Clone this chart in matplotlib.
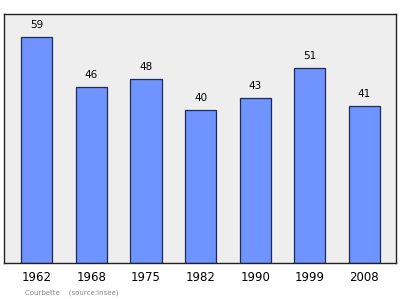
import matplotlib
matplotlib.use('Agg')
import matplotlib.pyplot as plt

years = ['1962', '1968', '1975', '1982', '1990', '1999', '2008']
population = [59, 46, 48, 40, 43, 51, 41]

fig = plt.figure(figsize=(4, 2.99), dpi=100)
ax = fig.add_axes([0.01, 0.12, 0.98, 0.833])
ax.set_facecolor('#eeeeee')

x = range(len(years))
bars = ax.bar(x, population, width=0.57, color='#6f94ff',
              edgecolor='#1f2a55', linewidth=0.9, zorder=2)
for xi, v in zip(x, population):
    ax.text(xi, v + 1.8, str(v), ha='center', va='bottom', fontsize=7.5)

ax.set_xlim(-0.6, 6.58)
ax.set_ylim(0, 65)
ax.set_xticks(list(x))
ax.set_xticklabels(years, fontsize=8.5)
ax.tick_params(axis='x', length=0, pad=6)
ax.set_yticks([])
for s in ax.spines.values():
    s.set_linewidth(1.0)
    s.set_color('#222222')

fig.text(0.062, 0.01, 'Courbette    (source:Insee)', fontsize=5,
         color='#888888', ha='left', va='bottom')

plt.savefig('out.png', dpi=100)
